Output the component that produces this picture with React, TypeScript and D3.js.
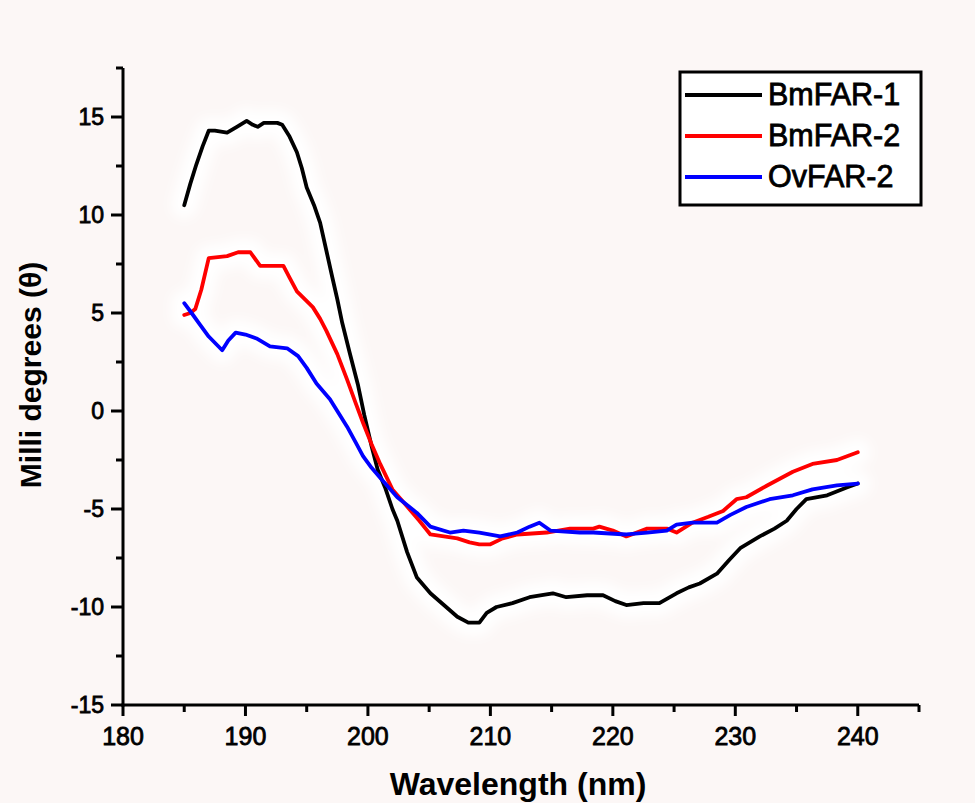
import React from "react";
import * as d3 from "d3";

const W = 975;
const H = 803;
const margin = { top: 68, right: 56, bottom: 98, left: 123 };

const seriesNames = ["BmFAR-1", "BmFAR-2", "OvFAR-2"];
const seriesColors = ["#000000", "#ff0000", "#0000ff"];

// [wavelength nm, milli degrees]
const bmFar1: [number, number][] = [
  [185, 10.5], [185.5, 11.6], [186, 12.6], [186.5, 13.5], [187, 14.3], [187.5, 14.3],
  [188.5, 14.2], [189.3, 14.5], [190.1, 14.8], [190.6, 14.6], [191, 14.5], [191.5, 14.7],
  [192, 14.7], [192.6, 14.7], [193, 14.6], [193.6, 14.0], [194.2, 13.2], [194.6, 12.4],
  [195, 11.4], [195.6, 10.5], [196.1, 9.6], [196.6, 8.2], [197.1, 6.8], [197.5, 5.7],
  [197.9, 4.5], [198.5, 3.0], [199.2, 1.3], [199.7, -0.2], [200.3, -1.8], [200.8, -3.0],
  [201.4, -3.9], [202.0, -5.0], [202.4, -5.6], [203.2, -7.2], [204.0, -8.5], [205.1, -9.3],
  [206.2, -9.9], [207.3, -10.5], [208.2, -10.8], [209.1, -10.8], [209.7, -10.3], [210.5, -10.0],
  [211.8, -9.8], [213.2, -9.5], [214.2, -9.4], [215.1, -9.3], [216.2, -9.5], [217.9, -9.4],
  [219.2, -9.4], [220.2, -9.7], [221.1, -9.9], [222.5, -9.8], [223.8, -9.8], [225.2, -9.3],
  [226.2, -9.0], [227.1, -8.8], [228.5, -8.3], [229.5, -7.6], [230.4, -7.0], [232.0, -6.4],
  [233.2, -6.0], [234.2, -5.6], [235.0, -5.0], [235.8, -4.5], [237.5, -4.3], [239.1, -3.9],
  [240.0, -3.7],
];

const bmFar2: [number, number][] = [
  [185, 4.9], [185.5, 5.0], [185.9, 5.2], [186.4, 6.2], [187.0, 7.8], [188.5, 7.9],
  [189.4, 8.1], [190.4, 8.1], [191.2, 7.4], [193.1, 7.4], [193.6, 6.8], [194.2, 6.1],
  [195.5, 5.3], [196.1, 4.7], [196.6, 4.1], [197.5, 2.9], [198.3, 1.6], [199.0, 0.4],
  [199.6, -0.6], [200.3, -1.7], [201.0, -2.7], [202.0, -4.0], [203.1, -4.8], [204.2, -5.6],
  [205.1, -6.3], [206.2, -6.4], [207.3, -6.5], [208.3, -6.7], [209.1, -6.8], [210.0, -6.8],
  [211.0, -6.5], [212.2, -6.3], [214.6, -6.2], [216.5, -6.0], [218.4, -6.0], [218.9, -5.9],
  [220.0, -6.1], [221.1, -6.4], [222.8, -6.0], [224.4, -6.0], [225.2, -6.2], [226.5, -5.7],
  [227.8, -5.4], [229.0, -5.1], [230.1, -4.5], [230.9, -4.4], [232.6, -3.8], [234.7, -3.1],
  [236.3, -2.7], [238.3, -2.5], [240.0, -2.1],
];

const ovFar2: [number, number][] = [
  [185.0, 5.5], [185.6, 5.0], [186.3, 4.4], [187.0, 3.8], [188.1, 3.1], [188.6, 3.6],
  [189.2, 4.0], [190.0, 3.9], [190.9, 3.7], [192.0, 3.3], [193.4, 3.2], [194.3, 2.8],
  [195.0, 2.2], [195.8, 1.4], [196.9, 0.6], [197.6, -0.1], [198.3, -0.8], [199.0, -1.6],
  [199.6, -2.3], [200.3, -2.9], [201.0, -3.4], [202.4, -4.4], [204.0, -5.2], [205.1, -5.9],
  [206.7, -6.2], [207.8, -6.1], [209.1, -6.2], [210.8, -6.4], [212.2, -6.2], [213.2, -5.9],
  [214.0, -5.7], [214.9, -6.1], [217.3, -6.2], [218.4, -6.2], [221.1, -6.3], [222.8, -6.2],
  [224.4, -6.1], [225.2, -5.8], [226.5, -5.7], [228.5, -5.7], [229.6, -5.3], [230.9, -4.9],
  [232.8, -4.5], [234.7, -4.3], [236.3, -4.0], [238.3, -3.8], [240.0, -3.7],
];

const allSeries = [bmFar1, bmFar2, ovFar2];

const xMajor = [180, 190, 200, 210, 220, 230, 240];
const xMinor = [185, 195, 205, 215, 225, 235, 245];
const yMajor = [-15, -10, -5, 0, 5, 10, 15];
const yMinor = [-12.5, -7.5, -2.5, 2.5, 7.5, 12.5, 17.5];

const font = "Arial, 'Liberation Sans', sans-serif";

export default function App() {
  const x = d3.scaleLinear().domain([180, 245]).range([margin.left, W - margin.right]);
  const y = d3.scaleLinear().domain([-15, 17.5]).range([H - margin.bottom, margin.top]);
  const line = d3
    .line<[number, number]>()
    .x((d) => x(d[0]))
    .y((d) => y(d[1]));

  const x0 = x(180);
  const y0 = y(-15);

  return (
    <svg
      width={W}
      height={H}
      style={{ position: "absolute", left: 0, top: 0 }}
      fontFamily={font}
    >
      <defs>
        <filter id="halo" x="-20%" y="-20%" width="140%" height="140%">
          <feGaussianBlur stdDeviation="6" />
        </filter>
      </defs>
      <rect width={W} height={H} fill="#fcf7f6" />

      {/* soft white glow around the curves, like the scanned figure */}
      <g filter="url(#halo)">
        {allSeries.map((s, i) => (
          <path key={i} d={line(s) || ""} fill="none" stroke="#ffffff" strokeWidth={26} strokeLinejoin="round" strokeLinecap="round" />
        ))}
      </g>

      {allSeries.map((s, i) => (
        <path
          key={i}
          d={line(s) || ""}
          fill="none"
          stroke={seriesColors[i]}
          strokeWidth={3.8}
          strokeLinejoin="round"
          strokeLinecap="round"
        />
      ))}

      {/* axes */}
      <g stroke="#000" strokeWidth={3}>
        <line x1={x0} x2={x0} y1={y(17.5)} y2={y0 + 1.5} />
        <line x1={x0 - 1.5} x2={x(245)} y1={y0} y2={y0} />
        {yMajor.map((v) => (
          <line key={v} x1={x0 - 12} x2={x0} y1={y(v)} y2={y(v)} />
        ))}
        {yMinor.map((v) => (
          <line key={v} x1={x0 - 7} x2={x0} y1={y(v)} y2={y(v)} />
        ))}
        {xMajor.map((v) => (
          <line key={v} x1={x(v)} x2={x(v)} y1={y0} y2={y0 + 11} />
        ))}
        {xMinor.map((v) => (
          <line key={v} x1={x(v)} x2={x(v)} y1={y0} y2={y0 + 7} />
        ))}
      </g>

      <g fontSize={23} fill="#000" stroke="#000" strokeWidth={0.8}>
        {yMajor.map((v) => (
          <text key={v} x={x0 - 19} y={y(v)} dy="0.36em" textAnchor="end">
            {v}
          </text>
        ))}
        {xMajor.map((v) => (
          <text key={v} x={x(v)} y={y0 + 40} textAnchor="middle" fontSize={25}>
            {v}
          </text>
        ))}
      </g>

      <text
        x={(x0 + x(245)) / 2 - 3}
        y={795}
        textAnchor="middle"
        fontSize={32}
        fontWeight="bold"
      >
        Wavelength (nm)
      </text>
      <text
        transform={`translate(41, 375) rotate(-90)`}
        textAnchor="middle"
        fontSize={30}
        fontWeight="bold"
      >
        Milli degrees (θ)
      </text>

      {/* legend */}
      <g>
        <rect x={680} y={72} width={241} height={133} fill="#ffffff" stroke="#000" strokeWidth={3} />
        {seriesNames.map((name, i) => (
          <g key={name} transform={`translate(685, ${95 + i * 41})`}>
            <line x1={0} x2={77} y1={0} y2={0} stroke={seriesColors[i]} strokeWidth={4} />
            <text x={83} y={10} fontSize={30.5} fill="#000" stroke="#000" strokeWidth={0.8}>
              {name}
            </text>
          </g>
        ))}
      </g>
    </svg>
  );
}
